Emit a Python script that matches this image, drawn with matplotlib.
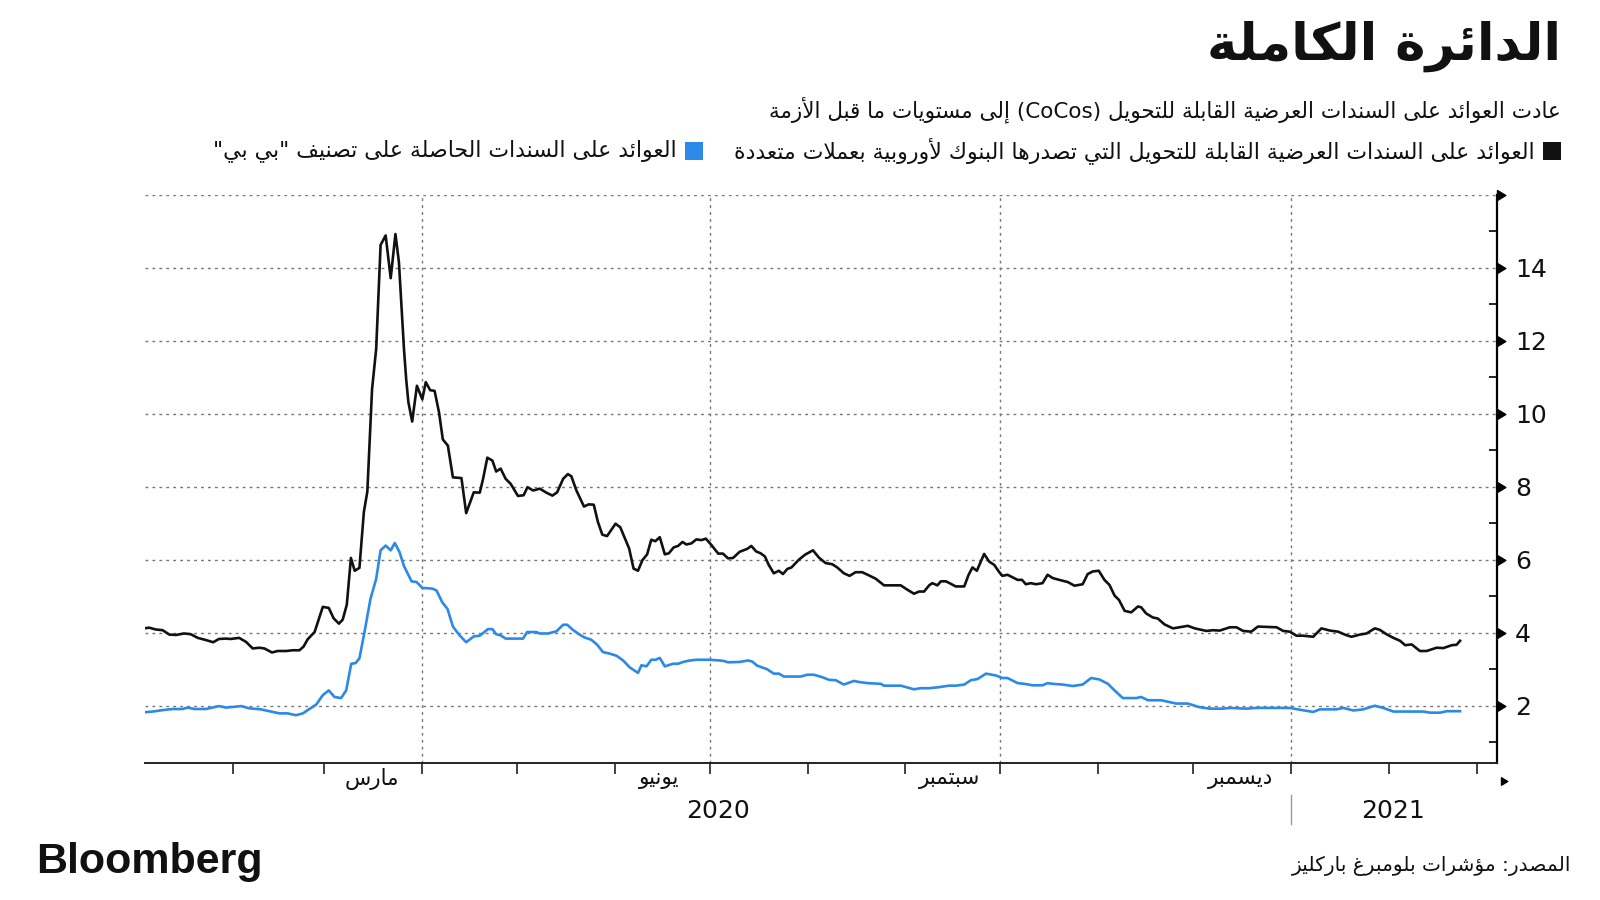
import re
import numpy as np
import pandas as pd
import matplotlib
matplotlib.use("Agg")
import matplotlib.pyplot as plt
from matplotlib.path import Path
from matplotlib.patches import Rectangle

plt.rcParams['font.family'] = ['DejaVu Sans']

# ---------------- data (day offsets from 2020-01-01, yields in %) ----------------
cocos_days = [2.9, 4.5, 6.6, 8.8, 10.9, 13.0, 15.6, 17.7, 19.9, 22.5, 24.8, 26.6, 28.8, 30.4, 33.0,
              35.2, 37.3, 39.4, 41.0, 43.4, 45.2, 47.9, 50.0, 52.1, 53.4, 54.7, 56.9, 59.5, 61.4,
              62.9, 64.6, 65.8, 67.1, 68.4, 69.6, 71.1, 72.5, 73.6, 75.1, 76.4, 77.8, 79.4, 81.0,
              82.5, 83.6, 85.2, 85.9, 86.6, 87.8, 89.3, 91.0, 92.1, 93.5, 94.9, 96.3, 97.5, 99.1,
              100.7, 103.4, 104.9, 107.3, 109.2, 110.2, 111.6, 113.2, 114.4, 115.8, 117.4, 119.0,
              121.3, 123.1, 124.3, 126.1, 128.2, 130.3, 132.2, 133.7, 135.6, 137.1, 138.2, 139.8,
              142.2, 143.7, 145.3, 146.6, 148.0, 149.5, 152.2, 153.7, 156.5, 157.9, 159.3, 160.7,
              162.2, 163.5, 164.8, 166.2, 167.8, 169.1, 170.6, 172.0, 173.4, 174.6, 176.2, 177.8,
              179.4, 180.8, 182.6, 184.7, 186.2, 187.8, 189.4, 191.5, 193.9, 195.2, 196.7, 198.1,
              199.5, 200.7, 202.3, 203.9, 205.2, 206.6, 207.9, 210.2, 212.2, 214.7, 216.6, 218.7,
              220.8, 222.4, 224.5, 226.3, 228.2, 230.3, 232.5, 234.6, 237.2, 239.9, 242.5, 244.6,
              246.7, 248.3, 249.9, 251.5, 252.5, 254.1, 255.2, 256.8, 258.4, 259.9, 262.6, 264.0,
              265.2, 266.6, 268.9, 270.5, 272.1, 273.7, 274.7, 276.3, 277.9, 279.5, 280.9, 282.1,
              283.7, 285.3, 287.4, 289.0, 290.6, 292.7, 295.4, 297.5, 300.1, 301.7, 303.3, 305.2,
              307.0, 308.6, 310.2, 311.6, 313.4, 315.5, 317.6, 318.6, 320.2, 322.3, 323.9, 326.0,
              328.7, 330.8, 333.4, 335.6, 339.3, 341.4, 343.5, 346.7, 348.8, 350.9, 353.5, 355.6,
              358.3, 361.5, 363.6, 365.7, 367.8, 369.9, 373.1, 375.7, 378.4, 381.0, 383.1, 385.2,
              387.9, 390.0, 392.6, 394.2, 396.3, 398.5, 400.6, 402.2, 404.3, 406.9, 409.0, 412.2,
              414.3, 417.0, 418.5, 419.6]
cocos_vals = [4.12, 4.14, 4.09, 4.07, 3.95, 3.94, 3.98, 3.96, 3.86, 3.80, 3.74, 3.83, 3.84, 3.83, 3.86,
              3.75, 3.57, 3.59, 3.57, 3.46, 3.50, 3.50, 3.52, 3.52, 3.62, 3.82, 4.02, 4.71, 4.68,
              4.40, 4.25, 4.36, 4.77, 6.05, 5.70, 5.78, 7.31, 7.87, 10.68, 11.78, 14.63, 14.89, 13.72,
              14.93, 14.16, 11.78, 10.95, 10.32, 9.79, 10.77, 10.40, 10.87, 10.65, 10.63, 10.04, 9.30, 9.13,
              8.26, 8.24, 7.28, 7.85, 7.84, 8.20, 8.80, 8.72, 8.42, 8.50, 8.22, 8.08,
              7.75, 7.77, 7.99, 7.90, 7.95, 7.84, 7.76, 7.85, 8.22, 8.35, 8.29, 7.90,
              7.46, 7.52, 7.51, 7.04, 6.69, 6.65, 6.99, 6.89, 6.31, 5.76, 5.70, 5.99,
              6.15, 6.55, 6.51, 6.62, 6.15, 6.18, 6.34, 6.38, 6.49, 6.42, 6.45, 6.56,
              6.54, 6.58, 6.40, 6.17, 6.17, 6.04, 6.05, 6.22, 6.30, 6.38, 6.23, 6.18,
              6.09, 5.86, 5.63, 5.70, 5.61, 5.75, 5.79, 6.00, 6.14, 6.26, 6.06, 5.91,
              5.88, 5.79, 5.63, 5.56, 5.66, 5.66, 5.57, 5.48, 5.30, 5.30, 5.30, 5.18,
              5.07, 5.13, 5.13, 5.30, 5.36, 5.30, 5.41, 5.41, 5.34, 5.27, 5.27, 5.59,
              5.79, 5.70, 6.16, 5.95, 5.86, 5.66, 5.56, 5.59, 5.52, 5.45, 5.45, 5.33,
              5.36, 5.33, 5.36, 5.59, 5.50, 5.45, 5.39, 5.29, 5.33, 5.61, 5.68, 5.70,
              5.45, 5.31, 5.02, 4.90, 4.60, 4.56, 4.72, 4.70, 4.53, 4.42, 4.39, 4.23,
              4.12, 4.15, 4.19, 4.12, 4.05, 4.07, 4.06, 4.15, 4.15, 4.05, 4.03, 4.17,
              4.16, 4.15, 4.05, 4.03, 3.92, 3.92, 3.89, 4.12, 4.06, 4.03, 3.95, 3.89,
              3.95, 3.98, 4.12, 4.08, 3.96, 3.86, 3.78, 3.66, 3.68, 3.50, 3.50, 3.59,
              3.58, 3.66, 3.67, 3.78]

bb_days = [2.9, 5.6, 8.8, 11.9, 15.1, 16.7, 18.8, 22.5, 24.6, 26.6, 28.8, 31.5, 33.6, 36.2, 39.9,
           43.1, 45.8, 48.4, 51.0, 53.2, 54.7, 57.4, 59.5, 61.4, 63.2, 65.3, 66.9, 68.5, 69.9,
           71.1, 72.7, 74.6, 76.4, 77.8, 79.4, 81.0, 82.3, 83.8, 85.2, 87.6, 89.2, 91.0, 94.2,
           95.5, 97.3, 99.0, 100.7, 102.8, 104.9, 107.3, 109.2, 111.8, 113.2, 114.4, 115.8, 117.4,
           119.7, 122.9, 124.2, 127.1, 128.2, 130.8, 133.5, 135.6, 136.9, 138.7, 140.8, 142.4,
           144.5, 146.4, 148.2, 150.3, 152.5, 154.6, 156.7, 159.3, 160.4, 162.0, 163.5, 164.9,
           166.2, 167.8, 170.4, 172.0, 173.6, 175.7, 177.8, 182.0, 185.2, 186.8, 187.8, 191.5,
           194.2, 195.5, 197.0, 200.2, 202.3, 203.9, 205.5, 210.8, 212.9, 215.0, 217.7, 219.8,
           221.9, 224.5, 227.7, 229.3, 231.9, 236.2, 237.2, 242.5, 246.7, 248.8, 251.5, 254.7,
           257.8, 259.9, 262.6, 264.7, 266.8, 269.5, 272.6, 274.7, 276.3, 279.5, 281.6, 284.3,
           287.4, 289.0, 290.6, 293.8, 297.0, 300.1, 302.8, 305.4, 308.1, 310.2, 312.8, 317.1,
           318.6, 320.8, 325.0, 327.6, 329.7, 333.4, 337.1, 340.3, 344.5, 346.7, 351.9, 355.1,
           365.7, 368.9, 373.1, 375.2, 380.5, 382.6, 385.8, 388.9, 392.6, 395.3, 398.5, 408.0,
           410.1, 413.3, 415.4, 419.6]
bb_vals = [1.82, 1.84, 1.88, 1.91, 1.91, 1.95, 1.91, 1.91, 1.95, 1.99, 1.95, 1.97, 1.99, 1.93, 1.90,
           1.84, 1.79, 1.79, 1.74, 1.79, 1.88, 2.03, 2.29, 2.42, 2.24, 2.21, 2.42, 3.15, 3.17,
           3.30, 4.02, 4.93, 5.48, 6.26, 6.39, 6.26, 6.46, 6.21, 5.83, 5.41, 5.39, 5.23, 5.21,
           5.16, 4.84, 4.65, 4.17, 3.93, 3.74, 3.90, 3.92, 4.10, 4.10, 3.96, 3.93, 3.84,
           3.84, 3.84, 4.02, 4.02, 3.98, 3.98, 4.04, 4.22, 4.22, 4.08, 3.95, 3.87,
           3.81, 3.67, 3.47, 3.43, 3.37, 3.24, 3.05, 2.90, 3.11, 3.08, 3.26, 3.26,
           3.31, 3.08, 3.15, 3.15, 3.20, 3.24, 3.26, 3.26, 3.24, 3.22, 3.19, 3.20,
           3.24, 3.21, 3.10, 3.00, 2.88, 2.88, 2.80, 2.80, 2.85, 2.85, 2.78, 2.71,
           2.70, 2.58, 2.68, 2.65, 2.62, 2.60, 2.55, 2.55, 2.45, 2.48, 2.48, 2.51,
           2.55, 2.55, 2.58, 2.70, 2.73, 2.88, 2.83, 2.76, 2.76, 2.62, 2.60, 2.56,
           2.56, 2.62, 2.60, 2.58, 2.54, 2.58, 2.76, 2.72, 2.60, 2.42, 2.21, 2.21,
           2.24, 2.15, 2.15, 2.10, 2.06, 2.06, 1.96, 1.92, 1.92, 1.94, 1.92, 1.94,
           1.94, 1.89, 1.83, 1.90, 1.90, 1.94, 1.87, 1.90, 2.00, 1.94, 1.84, 1.84,
           1.81, 1.81, 1.85, 1.85]

y_major = [2, 4, 6, 8, 10, 12, 14, 16]
y_labels = ['2', '4', '6', '8', '10', '12', '14', '']
y_minor = [1, 3, 5, 7, 9, 11, 13, 15]
month_labels = {'2020-03-16': 'مارس', '2020-06-15': 'يونيو', '2020-09-15': 'سبتمبر', '2020-12-16': 'ديسمبر'}
year_labels = {'2020': ('2020-01-04', '2021-01-01'), '2021': ('2021-01-01', '2021-03-07')}

title = 'الدائرة الكاملة'
subtitle = 'عادت العوائد على السندات العرضية القابلة للتحويل (CoCos) إلى مستويات ما قبل الأزمة'
legend1 = 'العوائد على السندات العرضية القابلة للتحويل التي تصدرها البنوك لأوروبية بعملات متعددة'
legend2 = 'العوائد على السندات الحاصلة على تصنيف "بي بي"'
source = 'المصدر: مؤشرات بلومبرغ باركليز'

# ---------------- minimal Arabic shaping (presentation forms + RTL order) ----------------
_TABLE = [(0x621, 0xFE80, 1), (0x622, 0xFE81, 2), (0x623, 0xFE83, 2), (0x624, 0xFE85, 2),
          (0x625, 0xFE87, 2), (0x626, 0xFE89, 4), (0x627, 0xFE8D, 2), (0x628, 0xFE8F, 4),
          (0x629, 0xFE93, 2), (0x62A, 0xFE95, 4), (0x62B, 0xFE99, 4), (0x62C, 0xFE9D, 4),
          (0x62D, 0xFEA1, 4), (0x62E, 0xFEA5, 4), (0x62F, 0xFEA9, 2), (0x630, 0xFEAB, 2),
          (0x631, 0xFEAD, 2), (0x632, 0xFEAF, 2), (0x633, 0xFEB1, 4), (0x634, 0xFEB5, 4),
          (0x635, 0xFEB9, 4), (0x636, 0xFEBD, 4), (0x637, 0xFEC1, 4), (0x638, 0xFEC5, 4),
          (0x639, 0xFEC9, 4), (0x63A, 0xFECD, 4), (0x641, 0xFED1, 4), (0x642, 0xFED5, 4),
          (0x643, 0xFED9, 4), (0x644, 0xFEDD, 4), (0x645, 0xFEE1, 4), (0x646, 0xFEE5, 4),
          (0x647, 0xFEE9, 4), (0x648, 0xFEED, 2), (0x649, 0xFEEF, 2), (0x64A, 0xFEF1, 4)]
FORMS = {chr(b): [chr(s + k) for k in range(n)] for b, s, n in _TABLE}
LAMALEF = {'\u0622': ('\uFEF5', '\uFEF6'), '\u0623': ('\uFEF7', '\uFEF8'),
           '\u0625': ('\uFEF9', '\uFEFA'), '\u0627': ('\uFEFB', '\uFEFC')}
MIRROR = {'(': ')', ')': '('}


def _nf(c):
    return len(FORMS[c]) if c in FORMS else 0


def ar(text):
    chars = list(text)
    n = len(chars)
    out = []
    i = 0
    while i < n:
        c = chars[i]
        if c not in FORMS:
            out.append(c)
            i += 1
            continue
        prev = chars[i - 1] if i > 0 else None
        jp = prev is not None and _nf(prev) == 4 and _nf(c) >= 2
        if c == '\u0644' and i + 1 < n and chars[i + 1] in LAMALEF:
            lig = LAMALEF[chars[i + 1]]
            out.append(lig[1] if jp else lig[0])
            i += 2
            continue
        nxt = chars[i + 1] if i + 1 < n else None
        jn = _nf(c) == 4 and nxt is not None and _nf(nxt) >= 2
        f = FORMS[c]
        if jp and jn:
            out.append(f[3])
        elif jp:
            out.append(f[1])
        elif jn:
            out.append(f[2])
        else:
            out.append(f[0])
        i += 1
    vis = ''.join(MIRROR.get(ch, ch) for ch in reversed(out))
    vis = re.sub(r'[A-Za-z0-9]+', lambda m: m.group(0)[::-1], vis)
    return vis


# ---------------- figure ----------------
W, H = 1600, 900
fig = plt.figure(figsize=(16, 9), dpi=100)
fig.patch.set_facecolor('white')


def fx(px):
    return px / W


def fy(py):
    return 1 - py / H


ax_l, ax_r, ax_t, ax_b = 145, 1497, 195, 763
ax = fig.add_axes([fx(ax_l), fy(ax_b), (ax_r - ax_l) / W, (ax_b - ax_t) / H])

base = pd.Timestamp('2020-01-01')
cocos_x = base + pd.to_timedelta(np.asarray(cocos_days), unit='D')
bb_x = base + pd.to_timedelta(np.asarray(bb_days), unit='D')

ax.plot(cocos_x, cocos_vals, color='#111111', lw=1.9, zorder=3, solid_joinstyle='round')
ax.plot(bb_x, bb_vals, color='#2a8ae6', lw=1.9, zorder=3, solid_joinstyle='round')

ax.set_xlim(base + pd.Timedelta(days=3.2), base + pd.Timedelta(days=431.3))
ax.set_ylim(0.43, 16)

for s in ['left', 'top']:
    ax.spines[s].set_visible(False)
ax.spines['bottom'].set_color('#222222')
ax.spines['bottom'].set_linewidth(1.4)
ax.spines['right'].set_color('black')
ax.spines['right'].set_linewidth(1.6)

# y axis on the right
ax.yaxis.tick_right()
ax.set_yticks(y_major)
ax.set_yticklabels(y_labels)
ax.set_yticks(y_minor, minor=True)
ax.tick_params(axis='y', which='major', length=0, pad=13, labelsize=18, labelcolor='#111111')
ax.tick_params(axis='y', which='minor', direction='in', length=6, width=1.2, color='black')
ax.grid(axis='y', which='major', linestyle=(0, (2, 3)), color='#777777', lw=1.0, zorder=0.5)

tri = Path([(0, -0.6), (1.0, 0), (0, 0.6), (0, -0.6)],
           [Path.MOVETO, Path.LINETO, Path.LINETO, Path.CLOSEPOLY])
ax.plot([1] * len(y_major), y_major, transform=ax.get_yaxis_transform(), marker=tri, ms=12,
        ls='none', color='black', clip_on=False, zorder=5)

# x axis ticks at month starts
month_starts = pd.date_range('2020-02-01', '2021-03-01', freq='MS')
ax.set_xticks(month_starts)
ax.tick_params(axis='x', which='major', direction='out', length=8, width=1.2, color='#222222',
               labelbottom=False)
for d in pd.to_datetime(['2020-04-01', '2020-07-01', '2020-10-01', '2021-01-01']):
    ax.axvline(d, linestyle=(0, (2, 3)), color='#777777', lw=1.0, zorder=0.5)

xt = ax.get_xaxis_transform()
for d, lab in month_labels.items():
    ax.text(pd.Timestamp(d), -0.028, ar(lab), transform=xt, ha='center', va='center',
            fontsize=15.5, color='#111111')
for lab, (d0, d1) in year_labels.items():
    t0, t1 = pd.Timestamp(d0), pd.Timestamp(d1)
    ax.text(t0 + (t1 - t0) / 2, -0.085, lab, transform=xt, ha='center', va='center',
            fontsize=18, color='#111111')
jan21 = pd.Timestamp('2021-01-01')
ax.plot([jan21, jan21], [-0.056, -0.108], transform=xt, color='#999999', lw=1.0, clip_on=False)
ax.plot([1.003], [-0.032], transform=ax.transAxes, marker=tri, ms=9, ls='none', color='black',
        clip_on=False)

# ---------------- header texts ----------------
fig.text(fx(1561), fy(46), ar(title), ha='right', va='center', fontsize=37, fontweight='bold',
         color='#111111')
fig.text(fx(1561), fy(110), ar(subtitle), ha='right', va='center', fontsize=15.5, color='#111111')

fig.patches.append(Rectangle((fx(1543), fy(160)), 18 / W, 18 / H, transform=fig.transFigure,
                             facecolor='#111111', edgecolor='none'))
fig.text(fx(1535), fy(151), ar(legend1), ha='right', va='center', fontsize=15.8, color='#111111')
fig.patches.append(Rectangle((fx(685), fy(160)), 18 / W, 18 / H, transform=fig.transFigure,
                             facecolor='#2a8ae6', edgecolor='none'))
fig.text(fx(677), fy(151), ar(legend2), ha='right', va='center', fontsize=15.8, color='#111111')

# ---------------- footer ----------------
fig.text(fx(36), fy(862), 'Bloomberg', ha='left', va='center', fontsize=31, fontweight='bold',
         family=['Liberation Sans', 'DejaVu Sans'], color='#111111')
fig.text(fx(1571), fy(866), ar(source), ha='right', va='center', fontsize=14.5, color='#111111')

fig.savefig('out.png', dpi=100, facecolor='white')
